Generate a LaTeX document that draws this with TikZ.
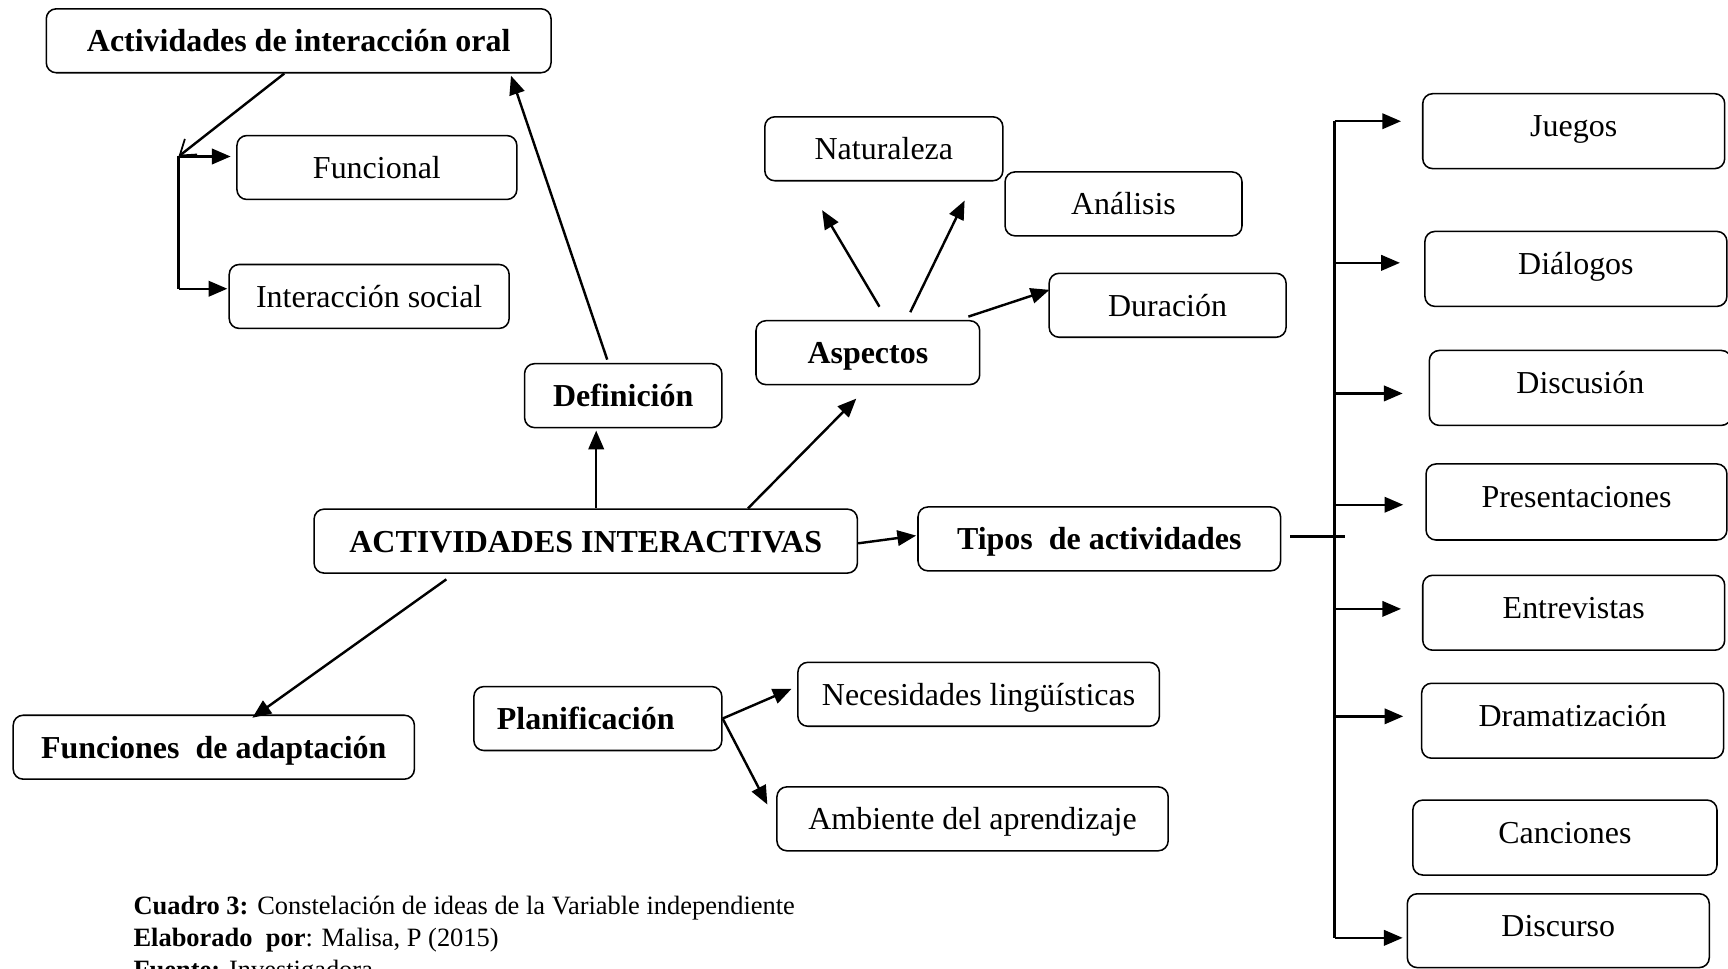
\documentclass[tikz,border=0pt]{standalone}
\usepackage{fontspec}
\setmainfont{Liberation Serif}
\usetikzlibrary{arrows.meta,calc}
\begin{document}
\begin{tikzpicture}[x=1pt,y=-1pt,
  box/.style={draw, line width=1.4pt, rounded corners=9pt, inner sep=0pt, minimum height=58pt, text height=20pt, text depth=0pt, font=\fontsize{29}{34}\selectfont},
  bbox/.style={box, font=\fontsize{29}{34}\selectfont\bfseries},
  rbox/.style={box, minimum height=68pt, minimum width=274pt, text height=20pt, text depth=10pt},
  arr/.style={line width=2.2pt, -{Triangle[length=17pt,width=14pt]}},
  barb/.style={line width=2.2pt, -{Straight Barb[length=13pt,width=18pt,line width=1.6pt]}},
  ln/.style={line width=2.2pt},
  captext/.style={anchor=base west, inner sep=0pt, font=\fontsize{24}{29}\selectfont}
]
\useasboundingbox (0,0) rectangle (1568,879);

% left part
\node[bbox, minimum width=458pt] (aio) at (271,37) {Actividades de interacción oral};
\node[box, minimum width=254pt] (fun) at (342,152) {Funcional};
\node[box, minimum width=254pt] (isoc) at (335,269) {Interacción social};
\node[bbox, minimum width=179pt] (def) at (565.5,359) {Definición};
\node[bbox, minimum width=493pt] (ai) at (531.5,491) {ACTIVIDADES INTERACTIVAS};
\node[bbox, minimum width=364pt] (fad) at (194,678) {Funciones\ \ de adaptación};

% aspects
\node[bbox, minimum width=203pt] (asp) at (787.5,320) {Aspectos};
\node[box, minimum width=216pt] (nat) at (802,135) {Naturaleza};
\node[box, minimum width=215pt] (ana) at (1019.5,185) {Análisis};
\node[box, minimum width=215pt] (dur) at (1059.5,277) {Duración};

% planning
\node[bbox, minimum width=225pt] (pla) at (542.5,652) {Planificación\hspace*{22pt}};
\node[box, minimum width=328pt] (nec) at (888,630) {Necesidades lingüísticas};
\node[box, minimum width=355pt] (amb) at (882.5,743) {Ambiente del aprendizaje};

% types
\node[bbox, minimum width=329pt] (tip) at (997.5,489) {Tipos\ \ de actividades};
\node[rbox] (jue) at (1428,119) {Juegos};
\node[rbox] (dia) at (1430,244) {Diálogos};
\node[rbox] (dis) at (1434,352) {Discusión};
\node[rbox, minimum height=69pt, minimum width=273pt] (pre) at (1430.5,455.5) {Presentaciones};
\node[rbox] (ent) at (1428,556) {Entrevistas};
\node[rbox] (dra) at (1427,654) {Dramatización};
\node[rbox, minimum width=276pt] (can) at (1420,760) {Canciones};
\node[rbox, minimum height=67pt] (dsc) at (1414,844.5) {Discurso};

% caption
\node[captext] (cap1) at (121,830) {\textbf{Cuadro 3:} Constelación de ideas de la Variable independiente};
\node[captext] (cap2) at (121,859) {\textbf{Elaborado\ \ por}: Malisa, P (2015)};
\node[captext] (cap3) at (121,888) {\textbf{Fuente:} Investigadora};

% connectors: left branch
\coordinate (split) at (162,142);
\coordinate (splitb) at (162,262);
\draw[barb] ([xshift=-13pt]aio.south) -- (split);
\draw[ln] (split) -- (splitb);
\draw[arr] (split) -- ([shift={(-5,-10)}]fun.west);
\draw[arr] (splitb) -- ([shift={(-1,-7)}]isoc.west);
\draw[arr] ([shift={(-14.5,-3)}]def.north) -- ([shift={(-37,2)}]aio.south east);
\draw[arr] ([xshift=9.5pt]ai.north) -- ([shift={(-24.5,2)}]def.south);
\draw[arr] ([shift={(-126.5,5)}]ai.south) -- ([shift={(35,3)}]fad.north);

% aspects
\draw[arr] ([xshift=-100pt]ai.north east) -- ([shift={(-10.5,12)}]asp.south);
\draw[arr] ([shift={(10.5,-12)}]asp.north) -- ([shift={(-56,26)}]nat.south);
\draw[arr] ([shift={(38.5,-7)}]asp.north) -- ([shift={(-36,-3)}]ana.west);
\draw[arr] ([shift={(-11,-3)}]asp.north east) -- ([shift={(1,-14)}]dur.west);

% planning
\draw[arr] (pla.east) -- ([shift={(-5,-5)}]nec.west);
\draw[arr] (pla.east) -- ([shift={(-8,-13)}]amb.west);

% types
\draw[arr] ([yshift=-2pt]ai.east) -- ([shift={(-1,-3)}]tip.west);
\draw[ln] ([shift={(8,-2)}]tip.east) -- ++(50,0);
\coordinate (busTop) at (1211,110);
\coordinate (busBot) at (1211,851);
\draw[ln] (busTop) -- (busBot);
\coordinate (tj) at ([shift={(-19,-9)}]jue.west);
\coordinate (td) at ([shift={(-22,-5.5)}]dia.west);
\coordinate (ts) at ([shift={(-23.5,5)}]dis.west);
\coordinate (tp) at ([shift={(-20,2.5)}]pre.west);
\coordinate (te) at ([shift={(-19,-3.5)}]ent.west);
\coordinate (tr) at ([shift={(-16,-4)}]dra.west);
\coordinate (tc) at ([shift={(-3.5,6.5)}]dsc.west);
\foreach \t in {tj,td,ts,tp,te,tr,tc} {
  \draw[arr] (busTop |- \t) -- (\t);
}
\end{tikzpicture}
\end{document}
